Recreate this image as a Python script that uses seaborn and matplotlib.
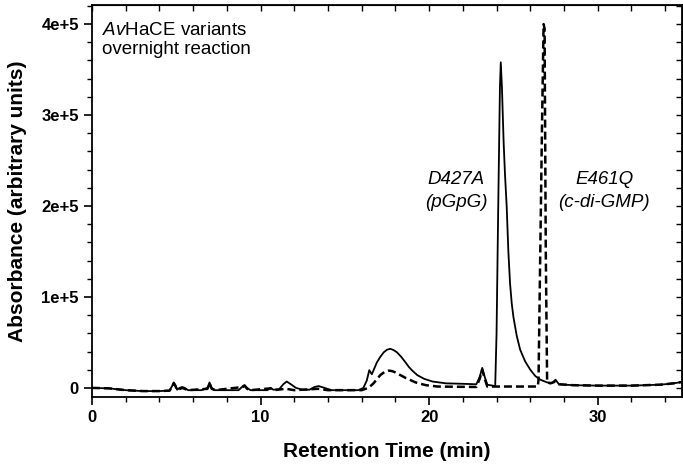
import matplotlib
matplotlib.use("Agg")
import matplotlib.pyplot as plt
import seaborn as sns
import pandas as pd

# retention time (min) / absorbance, D427A (solid)
t_d427a = [0.0, 1.0, 2.0, 3.0, 4.0, 4.6, 4.75, 4.85, 4.95, 5.05, 5.2, 5.35, 5.5, 5.7,
           6.5, 6.85, 6.97, 7.1, 7.3, 8.7, 8.95, 9.05, 9.2, 9.4, 10.4, 10.6, 10.75,
           11.1, 11.35, 11.55, 11.8, 12.1, 12.5, 12.9, 13.2, 13.45, 13.8, 14.2, 15.8,
           16.1, 16.3, 16.45, 16.6, 16.9, 17.1, 17.3, 17.5, 17.7, 17.9, 18.1, 18.35,
           18.6, 18.8, 19.0, 19.3, 19.7, 20.2, 21.0, 22.0, 22.8, 23.0, 23.15, 23.3,
           23.45, 23.92, 24.0, 24.1, 24.2, 24.25, 24.32, 24.42, 24.5, 24.6, 24.7, 24.8,
           24.9, 25.0, 25.2, 25.4, 25.7, 26.0, 26.3, 26.6, 27.0, 27.3, 27.5, 27.7,
           28.5, 30.0, 32.0, 33.7, 34.5, 35.0]
a_d427a = [0, -500, -2500, -3500, -3500, -3000, 2000, 6000, 3000, -2000, 0, 1000, 0, -2500,
           -2500, 0, 6000, 0, -2500, -2500, 2000, 3000, 0, -2500, -2500, 0, -2000,
           -1500, 4000, 7000, 4000, 0, -2000, -2000, 1000, 2000, 0, -2500, -2500,
           0, 8000, 19500, 15000, 28000, 34000, 39000, 42000, 43000, 41500, 39000, 34000,
           28000, 23000, 19000, 14000, 10000, 7000, 5000, 4500, 4000, 12000, 22000, 12000,
           3500, 2000, 60000, 200000, 330000, 358000, 330000, 270000, 235000, 200000, 150000, 115000,
           93000, 78000, 57000, 42000, 29000, 20000, 13000, 9000, 6000, 5500, 9000, 4000,
           3000, 2500, 2500, 3500, 5000, 6500]

# E461Q (dashed)
t_e461q = [0.0, 1.0, 2.0, 3.0, 4.0, 4.6, 4.75, 4.85, 4.95, 5.05, 5.35, 5.7, 6.85, 6.97,
           7.1, 7.3, 8.95, 9.05, 9.2, 9.4, 10.6, 10.75, 11.5, 12.0, 13.4, 14.0, 16.0,
           16.4, 16.7, 16.9, 17.1, 17.35, 17.6, 17.8, 18.0, 18.3, 18.6, 19.2, 19.8,
           20.5, 22.8, 23.0, 23.15, 23.3, 23.45, 26.45, 26.49, 26.69, 26.79, 26.85,
           26.92, 27.0, 27.2, 27.5, 27.7, 28.5, 30.0, 32.0, 33.7, 34.5, 35.0]
a_e461q = [0, -500, -2500, -3500, -3500, -3000, 1000, 5000, 2000, -2500, 0, -2500, -1000, 5000,
           -1000, -2500, 1000, 2500, -1000, -2500, -500, -2500, -1000, -2500, -1000, -2500, -2500,
           0, 5000, 9500, 14000, 17500, 19000, 18500, 17000, 14000, 11000, 6000, 3000,
           1500, 1000, 10000, 20000, 10000, 1500, 1500, 9000, 280000, 400000, 395000,
           150000, 6000, 5000, 7000, 4000, 3000, 2500, 2500, 3500, 5000, 6500]

y_ticks = [0, 100000, 200000, 300000, 400000]
y_tick_labels = ["0", "1e+5", "2e+5", "3e+5", "4e+5"]
x_ticks = [0, 10, 20, 30]

sns.set_style("ticks")
plt.rcParams['font.family'] = ['Liberation Sans', 'DejaVu Sans']
plt.rcParams['mathtext.fontset'] = 'custom'
plt.rcParams['mathtext.rm'] = 'Liberation Sans'
plt.rcParams['mathtext.it'] = 'Liberation Sans:italic'
for key in ['text.color', 'axes.labelcolor', 'xtick.color', 'ytick.color', 'axes.edgecolor']:
    plt.rcParams[key] = 'black'

df_d = pd.DataFrame({"time": t_d427a, "abs": a_d427a})
df_e = pd.DataFrame({"time": t_e461q, "abs": a_e461q})

fig = plt.figure(figsize=(6.83, 4.73), dpi=100)
ax = fig.add_axes([0.1347, 0.1607, 0.8638, 0.8287])

sns.lineplot(data=df_e, x="time", y="abs", ax=ax, color="black", lw=1.8,
             estimator=None, sort=False)
ax.lines[-1].set_dashes((3.2, 1.6))
sns.lineplot(data=df_d, x="time", y="abs", ax=ax, color="black", lw=1.3,
             estimator=None, sort=False)

ax.set_xlim(0, 35)
ax.set_ylim(-10000, 421000)
ax.set_xticks(x_ticks)
ax.set_xticks(list(range(0, 36, 2)), minor=True)
ax.set_yticks(y_ticks)
ax.set_yticklabels(y_tick_labels)
ax.set_yticks(list(range(0, 420001, 20000)), minor=True)
ax.tick_params(which="major", direction="out", length=6, width=1.2, labelsize=12)
ax.tick_params(which="minor", direction="out", length=3.5, width=1)
for lab in ax.get_xticklabels() + ax.get_yticklabels():
    lab.set_fontweight("bold")
for s in ax.spines.values():
    s.set_linewidth(1.3)

top = ax.secondary_xaxis("top")
top.set_xticks(x_ticks)
top.set_xticks(list(range(0, 36, 2)), minor=True)
top.tick_params(which="both", direction="in", labeltop=False, length=4, width=1)
right = ax.secondary_yaxis("right")
right.set_yticks(y_ticks)
right.set_yticks(list(range(0, 420001, 20000)), minor=True)
right.tick_params(which="both", direction="in", labelright=False, length=4, width=1)

ax.set_xlabel("Retention Time (min)", fontsize=15, fontweight="bold", labelpad=12)
ax.set_ylabel("Absorbance (arbitrary units)", fontsize=15, fontweight="bold", labelpad=10)

ax.text(0.6, 3.93e5, r"$\mathit{Av}$HaCE variants", fontsize=13.5, va="center")
ax.text(0.6, 3.72e5, "overnight reaction", fontsize=13.5, va="center")
ax.text(21.6, 2.29e5, "D427A", fontsize=13.5, style="italic", ha="center", va="center")
ax.text(21.6, 2.04e5, "(pGpG)", fontsize=13.5, style="italic", ha="center", va="center")
ax.text(30.4, 2.29e5, "E461Q", fontsize=13.5, style="italic", ha="center", va="center")
ax.text(30.4, 2.04e5, "(c-di-GMP)", fontsize=13.5, style="italic", ha="center", va="center")

plt.savefig("out.png", dpi=100)
